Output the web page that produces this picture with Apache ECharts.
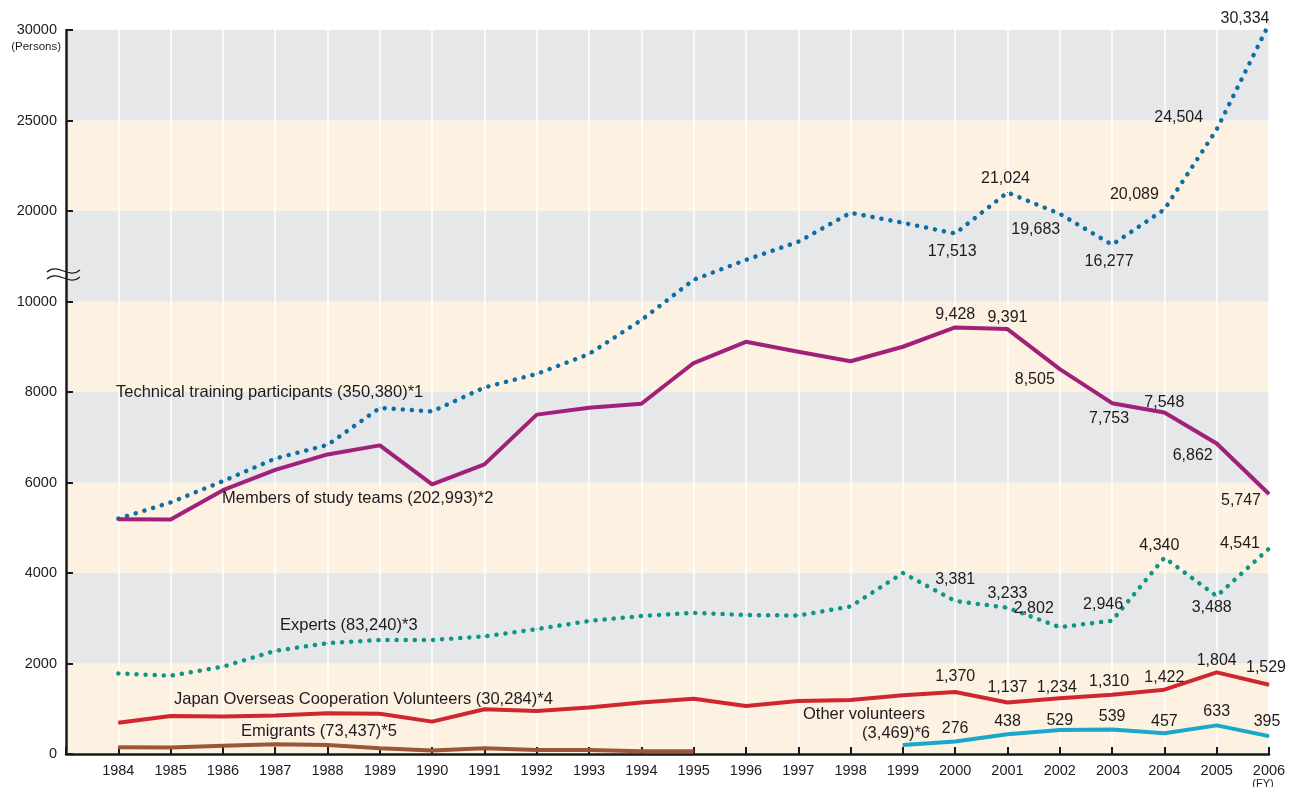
<!DOCTYPE html>
<html>
<head>
<meta charset="utf-8">
<title>Persons dispatched / accepted, FY1984-2006</title>
<script src="https://cdn.jsdelivr.net/npm/echarts@6/dist/echarts.min.js"></script>
<style>
  html, body { margin: 0; padding: 0; background: #fff; }
  #chart { width: 1295px; height: 787px; }
</style>
</head>
<body>
<div id="chart"></div>
<script>
const years = [1984, 1985, 1986, 1987, 1988, 1989, 1990, 1991, 1992, 1993, 1994, 1995,
  1996, 1997, 1998, 1999, 2000, 2001, 2002, 2003, 2004, 2005, 2006];
const emigrantYears = [1984, 1985, 1986, 1987, 1988, 1989, 1990, 1991, 1992, 1993, 1994, 1995];
const otherYears = [1999, 2000, 2001, 2002, 2003, 2004, 2005, 2006];

const trainees = [5200, 5560, 6030, 6530, 6830, 7650, 7570, 8100, 8400, 8840, 9590, 12400,
  14600, 16600, 19800, 18700, 17513, 21024, 19683, 16277, 20089, 24504, 30334];
const studyTeams = [5190, 5180, 5830, 6280, 6620, 6820, 5960, 6400, 7500, 7650, 7740, 8640,
  9110, 8890, 8680, 9000, 9428, 9391, 8505, 7753, 7548, 6862, 5747];
const experts = [1780, 1730, 1930, 2280, 2450, 2520, 2520, 2600, 2760, 2940, 3050, 3120,
  3070, 3060, 3260, 4000, 3381, 3233, 2802, 2946, 4340, 3488, 4541];
const volunteers = [690, 840, 830, 850, 900, 890, 715, 990, 950, 1030, 1140, 1220,
  1060, 1170, 1195, 1300, 1370, 1137, 1234, 1310, 1422, 1804, 1529];
const emigrants = [150, 145, 185, 215, 200, 125, 80, 125, 90, 90, 60, 60];
const otherVolunteers = [200, 276, 438, 529, 539, 457, 633, 395];

const seriesNames = [
  "Technical training participants (350,380)*1",
  "Members of study teams (202,993)*2",
  "Experts (83,240)*3",
  "Japan Overseas Cooperation Volunteers (30,284)*4",
  "Emigrants (73,437)*5",
  "Other volunteers",
];
const otherNote = "(3,469)*6";

// axis ticks every 2000 on the broken scale; above 10000 the axis is squeezed
const yTickLabels = ["0", "2000", "4000", "6000", "8000", "10000", "20000", "25000", "30000"];

// label offsets [dx, dy] from the point, only the labelled years
const traineeLabels = { 2000: [-3, 18], 2001: [-2, -14], 2002: [-24, 16], 2003: [-3, 17],
  2004: [-30, -15], 2005: [-38, -12], 2006: [-24, -5] };
const studyLabels = { 2000: [0, -13], 2001: [0, -11], 2002: [-25, 10], 2003: [-3, 15],
  2004: [0, -10], 2005: [-24, 12], 2006: [-28, 7] };
const expertLabels = { 2000: [0, -21], 2001: [0, -14], 2002: [-26, -19], 2003: [-9, -16],
  2004: [-5, -12], 2005: [-5, 11], 2006: [-29, -5] };
const volunteerLabels = { 2000: [0, -15], 2001: [0, -15], 2002: [-3, -11], 2003: [-3, -13],
  2004: [0, -12], 2005: [0, -12], 2006: [-3, -17] };
const otherLabels = { 2000: [0, -13], 2001: [0, -13], 2002: [0, -9], 2003: [0, -13],
  2004: [0, -12], 2005: [0, -14], 2006: [-2, -15] };

const FONT = '"Liberation Sans", Arial, Helvetica, sans-serif';
const INK = "#1f1b1c";

function brokenScale(v) {
  if (v <= 10000) return v;
  if (v <= 20000) return 10000 + (v - 10000) * 0.2;
  return 12000 + (v - 20000) * 0.4;
}

function withCommas(v) {
  return String(v).replace(/\B(?=(\d{3})+(?!\d))/g, ",");
}

function buildData(xs, values, offsets) {
  return xs.map((yr, i) => {
    const item = { value: [yr, brokenScale(values[i]), values[i]] };
    const off = offsets[yr];
    if (off) item.label = { show: true, offset: off };
    return item;
  });
}

function lineSeries(name, xs, values, offsets, color, dotted) {
  return {
    name,
    type: "line",
    data: buildData(xs, values, offsets),
    symbol: "circle",
    symbolSize: 1,
    itemStyle: { color },
    lineStyle: dotted
      ? { color, width: 4.5, type: [0.1, 9], cap: "round" }
      : { color, width: 4, join: "round" },
    label: {
      show: false,
      position: "inside",
      formatter: (p) => withCommas(p.value[2]),
      color: INK,
      fontSize: 16,
      fontFamily: FONT,
    },
    emphasis: { disabled: true },
    z: 3,
  };
}

function note(text, x, y, align) {
  return {
    type: "text",
    x,
    y,
    z: 100,
    style: {
      text,
      fill: INK,
      font: `16.5px ${FONT}`,
      align: align || "left",
      verticalAlign: "middle",
      textAlign: align || "left",
      textVerticalAlign: "middle",
    },
  };
}

function breakWave(y) {
  return {
    type: "bezierCurve",
    z: 100,
    shape: { x1: 47, y1: y + 1, cpx1: 58, cpy1: y - 9, cpx2: 69, cpy2: y + 9, x2: 80, y2: y - 1 },
    style: { stroke: INK, lineWidth: 1.3, fill: null },
  };
}

function buildOption() {
  const trainee = lineSeries(seriesNames[0], years, trainees, traineeLabels, "#0b6fa4", true);
  trainee.clip = false;

  return {
    animation: false,
    backgroundColor: "#fff",
    textStyle: { fontFamily: FONT, color: INK },
    grid: { left: 66, right: 26, top: 30, bottom: 33, containLabel: false },
    xAxis: {
      type: "value",
      min: 1983,
      max: 2006,
      interval: 1,
      axisLine: { lineStyle: { color: "#1a1a1a", width: 2.5 } },
      axisTick: { inside: true, length: 7, lineStyle: { color: "#1a1a1a", width: 2 } },
      axisLabel: {
        color: INK,
        fontSize: 14.5,
        fontFamily: FONT,
        margin: 9,
        formatter: (v) => (v === 1983 ? "" : String(v)),
      },
      splitLine: { show: true, lineStyle: { color: "#ffffff", width: 1.5 } },
    },
    yAxis: {
      type: "value",
      min: 0,
      max: 16000,
      interval: 2000,
      axisLine: { show: true, lineStyle: { color: "#1a1a1a", width: 2.5 } },
      axisTick: { show: true, inside: true, length: 7, lineStyle: { color: "#1a1a1a", width: 2 } },
      axisLabel: {
        color: INK,
        fontSize: 14.5,
        fontFamily: FONT,
        margin: 9,
        formatter: (v) => yTickLabels[Math.round(v / 2000)] ?? "",
      },
      splitLine: { show: false },
      splitArea: { show: true, areaStyle: { color: ["#fdf1e1", "#e6e7e9"] } },
    },
    series: [
      trainee,
      lineSeries(seriesNames[1], years, studyTeams, studyLabels, "#a1207a", false),
      lineSeries(seriesNames[2], years, experts, expertLabels, "#0e9587", true),
      lineSeries(seriesNames[3], years, volunteers, volunteerLabels, "#d0262f", false),
      lineSeries(seriesNames[4], emigrantYears, emigrants, {}, "#9a5738", false),
      lineSeries(seriesNames[5], otherYears, otherVolunteers, otherLabels, "#1ba7cc", false),
    ],
    graphic: [
      note(seriesNames[0], 116, 392),
      note(seriesNames[1], 222, 498),
      note(seriesNames[2], 280, 625),
      note(seriesNames[3], 174, 699),
      note(seriesNames[4], 241, 731),
      note(seriesNames[5], 925, 714, "right"),
      note(otherNote, 930, 733, "right"),
      {
        type: "text",
        x: 61,
        y: 47,
        z: 100,
        style: { text: "(Persons)", fill: INK, font: `11.5px ${FONT}`, align: "right", verticalAlign: "middle",
          textAlign: "right", textVerticalAlign: "middle" },
      },
      {
        type: "text",
        x: 1263,
        y: 784,
        z: 100,
        style: { text: "(FY)", fill: INK, font: `11px ${FONT}`, align: "center", verticalAlign: "middle",
          textAlign: "center", textVerticalAlign: "middle" },
      },
      breakWave(271),
      breakWave(278),
    ],
  };
}

const chart = echarts.init(document.getElementById("chart"), null, { renderer: "canvas" });
chart.setOption(buildOption());
</script>
</body>
</html>
